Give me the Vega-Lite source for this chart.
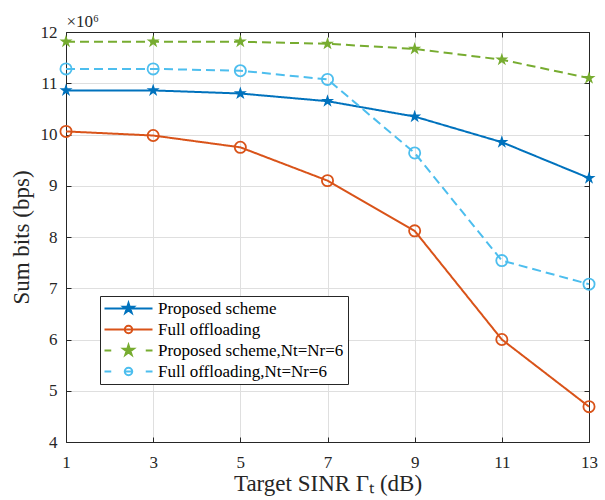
{
  "$schema": "https://vega.github.io/schema/vega-lite/v6.json",
  "width": 523,
  "height": 410,
  "autosize": {"type": "none"},
  "padding": {"left": 66, "top": 32, "right": 16, "bottom": 58},
  "background": "white",
  "config": {
    "font": "Liberation Serif",
    "view": {"stroke": null},
    "axis": {
      "labelFont": "Liberation Serif",
      "titleFont": "Liberation Serif",
      "labelFontSize": 17,
      "titleFontSize": 23,
      "titleFontWeight": "normal",
      "labelColor": "#262626",
      "titleColor": "#262626",
      "domainColor": "#262626",
      "tickColor": "#262626",
      "gridColor": "#dfdfdf",
      "gridWidth": 1,
      "tickSize": -5
    },
    "legend": {
      "labelFont": "Liberation Serif",
      "labelFontSize": 17,
      "labelColor": "#000000"
    }
  },
  "data": {
    "values": [
      {"x": 1, "series": "Proposed scheme", "y": 10.86},
      {"x": 3, "series": "Proposed scheme", "y": 10.86},
      {"x": 5, "series": "Proposed scheme", "y": 10.8},
      {"x": 7, "series": "Proposed scheme", "y": 10.65},
      {"x": 9, "series": "Proposed scheme", "y": 10.35},
      {"x": 11, "series": "Proposed scheme", "y": 9.85},
      {"x": 13, "series": "Proposed scheme", "y": 9.15},
      {"x": 1, "series": "Full offloading", "y": 10.06},
      {"x": 3, "series": "Full offloading", "y": 9.98},
      {"x": 5, "series": "Full offloading", "y": 9.75},
      {"x": 7, "series": "Full offloading", "y": 9.1},
      {"x": 9, "series": "Full offloading", "y": 8.12},
      {"x": 11, "series": "Full offloading", "y": 6.0},
      {"x": 13, "series": "Full offloading", "y": 4.69},
      {"x": 1, "series": "Proposed scheme,Nt=Nr=6", "y": 11.81},
      {"x": 3, "series": "Proposed scheme,Nt=Nr=6", "y": 11.81},
      {"x": 5, "series": "Proposed scheme,Nt=Nr=6", "y": 11.81},
      {"x": 7, "series": "Proposed scheme,Nt=Nr=6", "y": 11.77},
      {"x": 9, "series": "Proposed scheme,Nt=Nr=6", "y": 11.67},
      {"x": 11, "series": "Proposed scheme,Nt=Nr=6", "y": 11.46},
      {"x": 13, "series": "Proposed scheme,Nt=Nr=6", "y": 11.1},
      {"x": 1, "series": "Full offloading,Nt=Nr=6", "y": 11.28},
      {"x": 3, "series": "Full offloading,Nt=Nr=6", "y": 11.28},
      {"x": 5, "series": "Full offloading,Nt=Nr=6", "y": 11.245},
      {"x": 7, "series": "Full offloading,Nt=Nr=6", "y": 11.075},
      {"x": 9, "series": "Full offloading,Nt=Nr=6", "y": 9.64},
      {"x": 11, "series": "Full offloading,Nt=Nr=6", "y": 7.54},
      {"x": 13, "series": "Full offloading,Nt=Nr=6", "y": 7.08}
    ]
  },
  "resolve": {"axis": {"x": "independent", "y": "independent"}},
  "layer": [
    {
      "mark": {"type": "line", "strokeWidth": 2},
      "encoding": {
        "x": {
          "field": "x", "type": "quantitative",
          "scale": {"domain": [1, 13], "nice": false, "zero": false},
          "axis": {"values": [1, 3, 5, 7, 9, 11, 13], "title": "Target SINR Γₜ (dB)", "titlePadding": 2, "labelPadding": 17, "labelFlush": false}
        },
        "y": {
          "field": "y", "type": "quantitative",
          "scale": {"domain": [4, 12], "nice": false, "zero": false},
          "axis": {"values": [4, 5, 6, 7, 8, 9, 10, 11, 12], "title": "Sum bits (bps)", "titlePadding": 7, "labelPadding": 14, "labelFlush": false}
        },
        "color": {
          "field": "series", "type": "nominal",
          "scale": {"range": ["#D95319", "#4DBEEE", "#0072BD", "#77AC30"]},
          "legend": null
        },
        "strokeDash": {
          "field": "series", "type": "nominal",
          "scale": {"range": [[1, 0], [9, 5], [1, 0], [9, 5]]},
          "legend": null
        }
      }
    },
    {
      "transform": [{"filter": "datum.series == 'Proposed scheme' || datum.series == 'Proposed scheme,Nt=Nr=6'"}],
      "mark": {
        "type": "point", "filled": true, "opacity": 1, "size": 190,
        "shape": "M0,-1L0.2245,-0.309L0.951,-0.309L0.363,0.118L0.588,0.809L0,0.382L-0.588,0.809L-0.363,0.118L-0.951,-0.309L-0.2245,-0.309Z"
      },
      "encoding": {
        "x": {"field": "x", "type": "quantitative", "axis": null},
        "y": {"field": "y", "type": "quantitative", "axis": null},
        "color": {"field": "series", "type": "nominal", "legend": null}
      }
    },
    {
      "transform": [{"filter": "datum.series == 'Full offloading' || datum.series == 'Full offloading,Nt=Nr=6'"}],
      "mark": {"type": "point", "shape": "circle", "filled": false, "opacity": 1, "size": 125, "strokeWidth": 1.8},
      "encoding": {
        "x": {"field": "x", "type": "quantitative", "axis": null},
        "y": {"field": "y", "type": "quantitative", "axis": null},
        "color": {"field": "series", "type": "nominal", "legend": null}
      }
    },
    {
      "mark": {"type": "point", "filled": true, "opacity": 0, "strokeWidth": 2},
      "encoding": {
        "x": {"field": "x", "type": "quantitative", "axis": null},
        "y": {"field": "y", "type": "quantitative", "axis": null},
        "shape": {
          "field": "series", "type": "nominal",
          "scale": {
            "domain": ["Proposed scheme", "Full offloading", "Proposed scheme,Nt=Nr=6", "Full offloading,Nt=Nr=6"],
            "range": [
              "M-3.2,0H3.2M0,-0.72L0.162,-0.222L0.685,-0.222L0.261,0.085L0.423,0.583L0,0.275L-0.423,0.583L-0.261,0.085L-0.685,-0.222L-0.162,-0.222Z",
              "M-3.2,0H3.2M-0.5,0A0.5,0.5 0 1,0 0.5,0A0.5,0.5 0 1,0 -0.5,0Z",
              "M-3.2,0H-2.3M2.3,0H3.2M0,-0.72L0.162,-0.222L0.685,-0.222L0.261,0.085L0.423,0.583L0,0.275L-0.423,0.583L-0.261,0.085L-0.685,-0.222L-0.162,-0.222Z",
              "M-3.2,0H-2.3M-0.5,0H0.5M2.3,0H3.2M-0.5,0A0.5,0.5 0 1,0 0.5,0A0.5,0.5 0 1,0 -0.5,0Z"
            ]
          },
          "legend": {
            "title": null,
            "orient": "none",
            "legendX": 34,
            "legendY": 264,
            "padding": 4,
            "strokeColor": "#262626",
            "fillColor": "white",
            "symbolSize": 225,
            "symbolStrokeWidth": 2,
            "symbolOpacity": 1,
            "symbolOffset": 16,
            "labelOffset": 21,
            "labelLimit": 400,
            "rowPadding": 3
          }
        },
        "stroke": {
          "field": "series", "type": "nominal",
          "scale": {
            "domain": ["Proposed scheme", "Full offloading", "Proposed scheme,Nt=Nr=6", "Full offloading,Nt=Nr=6"],
            "range": ["#0072BD", "#D95319", "#77AC30", "#4DBEEE"]
          }
        },
        "fill": {
          "field": "series", "type": "nominal",
          "scale": {
            "domain": ["Proposed scheme", "Full offloading", "Proposed scheme,Nt=Nr=6", "Full offloading,Nt=Nr=6"],
            "range": ["#0072BD", "transparent", "#77AC30", "transparent"]
          }
        }
      }
    },
    {
      "mark": {"type": "point", "opacity": 0},
      "encoding": {
        "x": {
          "field": "x", "type": "quantitative",
          "axis": {"orient": "top", "values": [1, 3, 5, 7, 9, 11, 13], "labels": false, "grid": false, "title": "×10⁶", "titleAnchor": "start", "titleAlign": "left", "titleFontSize": 17, "titlePadding": 1}
        },
        "y": {
          "field": "y", "type": "quantitative",
          "axis": {"orient": "right", "values": [4, 5, 6, 7, 8, 9, 10, 11, 12], "labels": false, "grid": false, "title": null}
        }
      }
    }
  ]
}
